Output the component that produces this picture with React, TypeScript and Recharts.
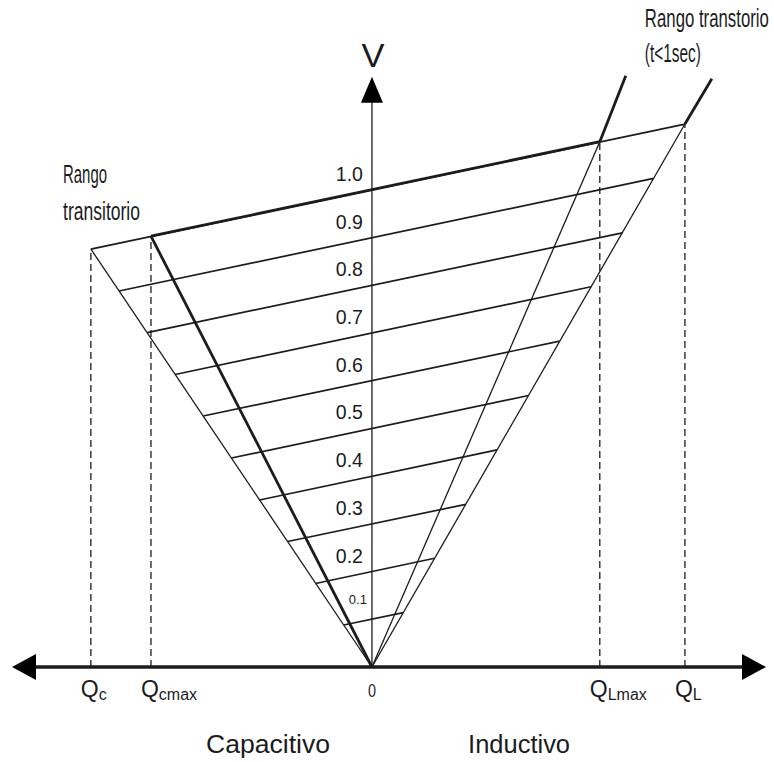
import { ComposedChart, Line, Scatter, XAxis, YAxis, ReferenceDot } from "recharts";

const CHART_W = 774;
const CHART_H = 762;
const INK = "#1c1c1c";
const FONT = "'Liberation Sans', Arial, sans-serif";

// niveles de tensión de las rectas inclinadas (lectura sobre el eje V)
const levels = [0.1, 0.2, 0.3, 0.4, 0.5, 0.6, 0.7, 0.8, 0.9, 1.0];
const levelLabels = ["0.1", "0.2", "0.3", "0.4", "0.5", "0.6", "0.7", "0.8", "0.9", "1.0"];
// extremo izquierdo de cada recta (sobre el límite Qc) y derecho (sobre el límite QL)
const levelLeftQ = [-0.09, -0.18, -0.269, -0.359, -0.449, -0.539, -0.629, -0.718, -0.808, -0.898];
const levelLeftV = [0.088, 0.175, 0.263, 0.35, 0.438, 0.526, 0.613, 0.701, 0.788, 0.876];
const levelRightQ = [0.1, 0.2, 0.3, 0.4, 0.5, 0.6, 0.7, 0.8, 0.9, 1.0];
const levelRightV = [0.114, 0.228, 0.341, 0.455, 0.569, 0.683, 0.797, 0.91, 1.024, 1.138];

// vértices a V = 1.0: Qc, Qcmax, QLmax, QL
const cornerQ = [-0.898, -0.706, 0.728, 1.0];
const cornerV = [0.876, 0.903, 1.101, 1.138];
// tramos transitorios (t<1sec) por encima de QLmax y QL
const extQ = [0.811, 1.086];
const extV = [1.239, 1.233];

// eje Q
const qTicks = [-0.898, -0.706, 0, 0.728, 1.0];
const qTickMain = ["Q", "Q", "0", "Q", "Q"];
const qTickSub = ["c", "cmax", "", "Lmax", "L"];

const qDomain: [number, number] = [-1.15, 1.259];
const vDomain: [number, number] = [0, 1.398];
const vArrowTip = 1.237;

type Pt = { x: number; y: number };
type Seg = { id: string; pts: Pt[]; width: number; dash?: string };

const segments: Seg[] = [];
levels.forEach((v, i) => {
  segments.push({
    id: `lvl-${v}`,
    pts: [
      { x: levelLeftQ[i], y: levelLeftV[i] },
      { x: levelRightQ[i], y: levelRightV[i] },
    ],
    width: 1.7,
  });
});
cornerQ.forEach((q, i) => {
  // límites desde el origen; el de Qcmax va en trazo grueso
  segments.push({
    id: `lim-${i}`,
    pts: [{ x: 0, y: 0 }, { x: q, y: cornerV[i] }],
    width: i === 1 ? 2.8 : 1.3,
  });
  segments.push({
    id: `dash-${i}`,
    pts: [{ x: q, y: 0 }, { x: q, y: cornerV[i] }],
    width: 1.3,
    dash: "7 4",
  });
});
segments.push({
  id: "top-thick",
  pts: [{ x: cornerQ[1], y: cornerV[1] }, { x: cornerQ[2], y: cornerV[2] }],
  width: 2.8,
});
extQ.forEach((q, i) => {
  segments.push({
    id: `ext-${i}`,
    pts: [{ x: cornerQ[i + 2], y: cornerV[i + 2] }, { x: q, y: extV[i] }],
    width: 2.8,
  });
});
segments.push({ id: "v-axis", pts: [{ x: 0, y: 0 }, { x: 0, y: vArrowTip - 0.04 }], width: 1.3 });
segments.push({
  id: "q-axis",
  pts: [{ x: qDomain[0] + 0.06, y: 0 }, { x: qDomain[1] - 0.06, y: 0 }],
  width: 3.6,
});

const arrowHeads = [
  { x: qDomain[0], y: 0, dir: "left" },
  { x: qDomain[1], y: 0, dir: "right" },
  { x: 0, y: vArrowTip, dir: "up" },
];

// textos sueltos (sx: compresión horizontal de la letra estrecha del original)
const notes = [
  { q: 0.003, v: 1.258, text: "V", size: 33, len: 23, sx: 1, anchor: "middle" },
  { q: 0.872, v: 1.342, text: "Rango transtorio", size: 25, len: 124, sx: 0.7, anchor: "start" },
  { q: 0.872, v: 1.268, text: "(t<1sec)", size: 25, len: 56, sx: 0.7, anchor: "start" },
  { q: -0.987, v: 1.015, text: "Rango", size: 25, len: 44, sx: 0.7, anchor: "start" },
  { q: -0.987, v: 0.937, text: "transitorio", size: 25, len: 77, sx: 0.7, anchor: "start" },
  { q: -0.332, v: -0.18, text: "Capacitivo", size: 25, len: 124, sx: 1, anchor: "middle" },
  { q: 0.47, v: -0.18, text: "Inductivo", size: 25, len: 102, sx: 1, anchor: "middle" },
];

function Arrow(props: any) {
  const { cx, cy, payload } = props;
  if (cx == null || cy == null) return null;
  let d = "";
  if (payload.dir === "left") d = `M${cx},${cy} L${cx + 24},${cy - 13} L${cx + 24},${cy + 13} Z`;
  else if (payload.dir === "right") d = `M${cx},${cy} L${cx - 24},${cy - 13} L${cx - 24},${cy + 13} Z`;
  else d = `M${cx},${cy} L${cx - 11},${cy + 26} L${cx + 11},${cy + 26} Z`;
  return <path d={d} fill="#000" />;
}

function QTick(props: any) {
  const { x, y, payload } = props;
  const i = qTicks.indexOf(payload.value);
  if (i < 0) return null;
  if (!qTickSub[i]) {
    return (
      <text
        x={x}
        y={y + 30}
        textAnchor="middle"
        fontSize={19}
        fontFamily={FONT}
        fill={INK}
        textLength={8}
        lengthAdjust="spacingAndGlyphs"
      >
        {qTickMain[i]}
      </text>
    );
  }
  return (
    <text x={x - 10} y={y + 30} fontSize={23} fontFamily={FONT} fill={INK}>
      {qTickMain[i]}
      <tspan fontSize={16} dy={3}>
        {qTickSub[i]}
      </tspan>
    </text>
  );
}

export default function App() {
  return (
    <div style={{ position: "absolute", left: 0, top: 0, width: CHART_W, height: CHART_H, background: "#fff" }}>
      <ComposedChart width={CHART_W} height={CHART_H} margin={{ top: 0, right: 8, bottom: 65, left: 12 }}>
        <XAxis
          type="number"
          dataKey="x"
          domain={qDomain}
          ticks={qTicks}
          interval={0}
          axisLine={false}
          tickLine={false}
          tickSize={0}
          tickMargin={0}
          height={30}
          tick={(p: any) => <QTick {...p} />}
        />
        <YAxis type="number" dataKey="y" domain={vDomain} hide />
        {segments.map((s) => (
          <Line
            key={s.id}
            data={s.pts}
            dataKey="y"
            type="linear"
            stroke={INK}
            strokeWidth={s.width}
            strokeDasharray={s.dash}
            dot={false}
            activeDot={false}
            legendType="none"
            isAnimationActive={false}
          />
        ))}
        <Scatter data={arrowHeads} dataKey="y" shape={(p: any) => <Arrow {...p} />} isAnimationActive={false} />
        {levels.map((v, i) => (
          <ReferenceDot
            key={`lab-${v}`}
            x={0}
            y={v}
            ifOverflow="visible"
            shape={(p: any) =>
              i === 0 ? (
                <text x={p.cx - 5} y={p.cy - 15} textAnchor="end" fontSize={13} fontFamily={FONT} fill={INK}>
                  {levelLabels[i]}
                </text>
              ) : (
                <text
                  x={p.cx - 9}
                  y={p.cy - 9}
                  textAnchor="end"
                  fontSize={19.5}
                  fontFamily={FONT}
                  fill={INK}
                >
                  {levelLabels[i]}
                </text>
              )
            }
          />
        ))}
        {notes.map((n) => (
          <ReferenceDot
            key={n.text}
            x={n.q}
            y={n.v}
            ifOverflow="visible"
            shape={(p: any) => (
              <text
                transform={`translate(${p.cx},${p.cy}) scale(${n.sx},1)`}
                x={0}
                y={0}
                textAnchor={n.anchor as any}
                fontSize={n.size}
                fontFamily={FONT}
                fill={INK}
                textLength={n.len / n.sx}
                lengthAdjust="spacingAndGlyphs"
              >
                {n.text}
              </text>
            )}
          />
        ))}
      </ComposedChart>
    </div>
  );
}
